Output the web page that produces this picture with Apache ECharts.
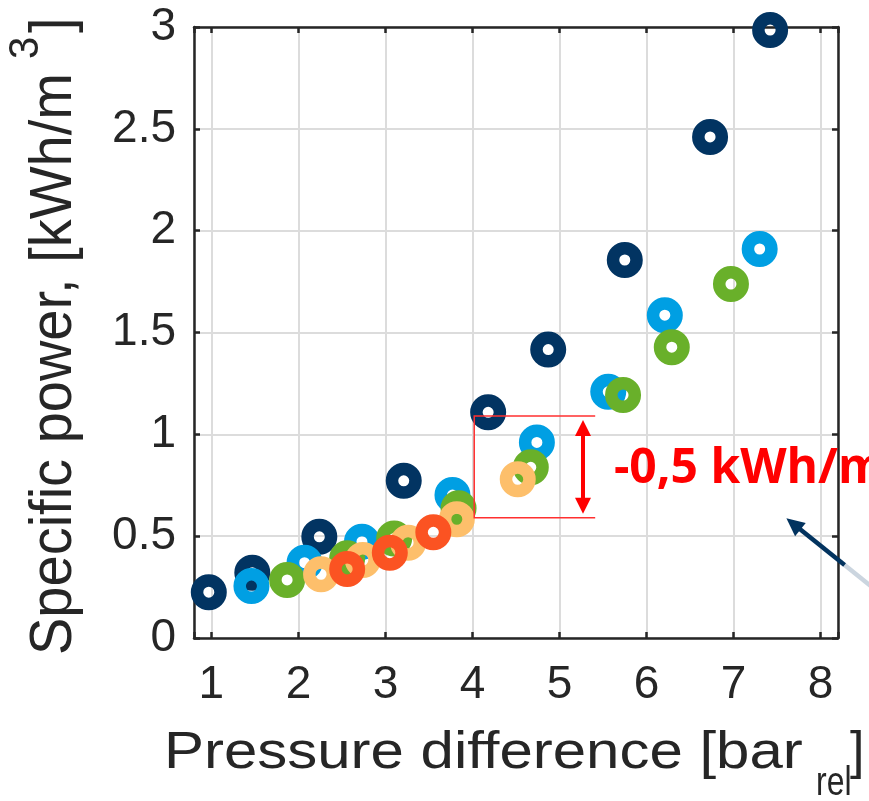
<!DOCTYPE html>
<html>
<head>
<meta charset="utf-8">
<script src="https://cdn.jsdelivr.net/npm/echarts@6/dist/echarts.min.js"></script>
<style>
  html, body { margin: 0; padding: 0; background: #ffffff; }
  #chart { width: 869px; height: 801px; }
</style>
</head>
<body>
<div id="chart"></div>
<script>
// Axis ticks
const xTicks = [1, 2, 3, 4, 5, 6, 7, 8];
const yTicks = [0, 0.5, 1, 1.5, 2, 2.5, 3];

// Measurement series: pressure difference [bar rel] vs specific power [kWh/m3]
const navyX   = [0.97, 1.47, 2.24, 3.21, 4.18, 4.87, 5.75, 6.73, 7.42];
const navyY   = [0.225, 0.32, 0.497, 0.772, 1.108, 1.416, 1.856, 2.46, 2.985];
const blueX   = [1.46, 2.07, 2.73, 3.77, 4.74, 5.56, 6.21, 7.30];
const blueY   = [0.255, 0.37, 0.473, 0.702, 0.96, 1.209, 1.585, 1.91];
const greenX  = [1.87, 2.56, 3.10, 3.84, 4.67, 5.73, 6.29, 6.97];
const greenY  = [0.285, 0.391, 0.489, 0.637, 0.838, 1.193, 1.428, 1.738];
const sandX   = [2.26, 2.74, 3.26, 3.82, 4.52];
const sandY   = [0.313, 0.383, 0.468, 0.583, 0.779];
const redX    = [2.56, 3.05, 3.55];
const redY    = [0.339, 0.419, 0.519];

// Annotation: saving bracket and note
const bracketX = [4.02, 5.41];
const bracketTop = 1.09;
const savingStep = 0.5;
const savingArrowX = 5.27;
const noteText = '-0,5 kWh/m\u00b3';
const noteAnchor = [5.625, 0.736];
// Pointer arrow coming in from the right
const pointerTip = [7.607, 0.588];
const pointerMid = [8.276, 0.358];
const pointerEnd = [8.65, 0.23];

const textColor = '#262626';
const ringSeries = [
  { name: 'Series 1', xs: navyX,  ys: navyY,  color: '#023462' },
  { name: 'Series 2', xs: blueX,  ys: blueY,  color: '#009fe3' },
  { name: 'Series 3', xs: greenX, ys: greenY, color: '#69b02a' },
  { name: 'Series 4', xs: sandX,  ys: sandY,  color: '#fdbf6b' },
  { name: 'Series 5', xs: redX,   ys: redY,   color: '#fb5322' }
];

const chart = echarts.init(document.getElementById('chart'), null, { renderer: 'canvas' });

const isTick = (list, v) => list.some(t => Math.abs(t - v) < 1e-6);

const axisLineStyle = { color: textColor, width: 2.5 };
const tickStyle = { color: textColor, width: 2.5 };
const gridLineStyle = { color: '#dcdcdc', width: 2 };

const xBase = {
  type: 'value', min: 0.8, max: 8.2, minInterval: 1, maxInterval: 1, splitNumber: 7,
  axisLine: { show: true, onZero: false, lineStyle: axisLineStyle },
  axisTick: { show: true, inside: true, length: 6, lineStyle: tickStyle }
};
const yBase = {
  type: 'value', min: 0, max: 3, interval: 0.5,
  axisLine: { show: true, onZero: false, lineStyle: axisLineStyle },
  axisTick: { show: true, inside: true, length: 6, lineStyle: tickStyle }
};

chart.setOption({
  animation: false,
  backgroundColor: '#ffffff',
  grid: { left: 194, right: 31, top: 27, bottom: 163, containLabel: false },
  xAxis: [
    Object.assign({}, xBase, {
      position: 'bottom',
      axisLabel: {
        margin: 24, fontSize: 46, fontFamily: 'Liberation Sans', color: textColor,
        formatter: v => isTick(xTicks, v) ? String(Math.round(v)) : ''
      },
      splitLine: { show: true, lineStyle: gridLineStyle }
    }),
    Object.assign({}, xBase, {
      position: 'top',
      axisLabel: { show: false },
      splitLine: { show: false }
    })
  ],
  yAxis: [
    Object.assign({}, yBase, {
      position: 'left',
      axisLabel: {
        margin: 18, fontSize: 46, fontFamily: 'Liberation Sans', color: textColor,
        formatter: v => isTick(yTicks, v) ? String(v) : ''
      },
      splitLine: { show: true, lineStyle: gridLineStyle }
    }),
    Object.assign({}, yBase, {
      position: 'right',
      axisLabel: { show: false },
      splitLine: { show: false }
    })
  ],
  series: ringSeries.map(s => ({
    name: s.name,
    type: 'scatter',
    xAxisIndex: 0,
    yAxisIndex: 0,
    symbol: 'circle',
    symbolSize: 23.5,
    silent: true,
    itemStyle: { color: 'rgba(0,0,0,0)', borderColor: s.color, borderWidth: 12.5, opacity: 1 },
    emphasis: { disabled: true },
    data: s.xs.map((x, i) => [x, s.ys[i]])
  }))
});

// Annotations placed through the axis scales
const px = p => chart.convertToPixel({ xAxisIndex: 0, yAxisIndex: 0 }, p);

const bTopL = px([bracketX[0], bracketTop]);
const bTopR = px([bracketX[1], bracketTop]);
const bBotL = px([bracketX[0], bracketTop - savingStep]);
const bBotR = px([bracketX[1], bracketTop - savingStep]);

const aTop = px([savingArrowX, bracketTop - 0.02]);
const aBot = px([savingArrowX, bracketTop - savingStep + 0.02]);
const headLen = 16, headHalf = 8;

const pTip = px(pointerTip), pMid = px(pointerMid), pEnd = px(pointerEnd);
const dx = pMid[0] - pTip[0], dy = pMid[1] - pTip[1];
const dl = Math.hypot(dx, dy);
const ux = dx / dl, uy = dy / dl;
const pHeadLen = 18, pHeadHalf = 8.5;
const pBase = [pTip[0] + ux * pHeadLen, pTip[1] + uy * pHeadLen];

const note = px(noteAnchor);

const titleFont = 'Liberation Sans';

chart.setOption({
  graphic: [
    // bracket marking the drop
    {
      type: 'polyline', z: 10, silent: true,
      shape: { points: [bTopR, bTopL, bBotL, bBotR] },
      style: { stroke: '#ff3030', lineWidth: 1.5, fill: null }
    },
    // double-headed arrow
    {
      type: 'line', z: 10, silent: true,
      shape: { x1: aTop[0], y1: aTop[1] + headLen - 2, x2: aBot[0], y2: aBot[1] - headLen + 2 },
      style: { stroke: '#ff0000', lineWidth: 4 }
    },
    {
      type: 'polygon', z: 10, silent: true,
      shape: { points: [[aTop[0], aTop[1]], [aTop[0] - headHalf, aTop[1] + headLen], [aTop[0] + headHalf, aTop[1] + headLen]] },
      style: { fill: '#ff0000' }
    },
    {
      type: 'polygon', z: 10, silent: true,
      shape: { points: [[aBot[0], aBot[1]], [aBot[0] - headHalf, aBot[1] - headLen], [aBot[0] + headHalf, aBot[1] - headLen]] },
      style: { fill: '#ff0000' }
    },
    // note text
    {
      type: 'text', z: 11, silent: true,
      x: note[0], y: note[1] - 18.5,
      style: {
        text: noteText, fill: '#ff0000',
        font: 'bold 48px "Open Sans"',
        align: 'left', verticalAlign: 'middle'
      }
    },
    // pointer arrow
    {
      type: 'line', z: 10, silent: true,
      shape: { x1: pMid[0], y1: pMid[1], x2: pEnd[0], y2: pEnd[1] },
      style: { stroke: '#cbd5df', lineWidth: 4.5 }
    },
    {
      type: 'line', z: 10, silent: true,
      shape: { x1: pBase[0] - ux * 2, y1: pBase[1] - uy * 2, x2: pMid[0], y2: pMid[1] },
      style: { stroke: '#02335f', lineWidth: 4.5 }
    },
    {
      type: 'polygon', z: 10, silent: true,
      shape: { points: [
        pTip,
        [pBase[0] - uy * pHeadHalf, pBase[1] + ux * pHeadHalf],
        [pBase[0] + uy * pHeadHalf, pBase[1] - ux * pHeadHalf]
      ] },
      style: { fill: '#02335f' }
    },
    // x axis title with subscript
    {
      type: 'text', silent: true, x: 164, y: 754, scaleX: 1.153,
      style: { text: 'Pressure difference [bar', fill: textColor, font: '52px "' + titleFont + '"', align: 'left', verticalAlign: 'middle' }
    },
    {
      type: 'text', silent: true, x: 816, y: 784, scaleX: 0.8,
      style: { text: 'rel', fill: textColor, font: '40px "' + titleFont + '"', align: 'left', verticalAlign: 'middle' }
    },
    {
      type: 'text', silent: true, x: 850, y: 754,
      style: { text: ']', fill: textColor, font: '52px "' + titleFont + '"', align: 'left', verticalAlign: 'middle' }
    },
    // y axis title with superscript, reading upwards
    {
      type: 'group', silent: true, x: 75, y: 655, rotation: Math.PI / 2, scaleY: 1.07,
      children: [
        {
          type: 'text', x: 0, y: -19.4,
          style: { text: 'Specific power, [kWh/m', fill: textColor, font: '56px "' + titleFont + '"', align: 'left', verticalAlign: 'middle' }
        },
        {
          type: 'text', x: 596, y: -46,
          style: { text: '3', fill: textColor, font: '40px "' + titleFont + '"', align: 'left', verticalAlign: 'middle' }
        },
        {
          type: 'text', x: 622, y: -19.4,
          style: { text: ']', fill: textColor, font: '56px "' + titleFont + '"', align: 'left', verticalAlign: 'middle' }
        }
      ]
    }
  ]
});
</script>
</body>
</html>
